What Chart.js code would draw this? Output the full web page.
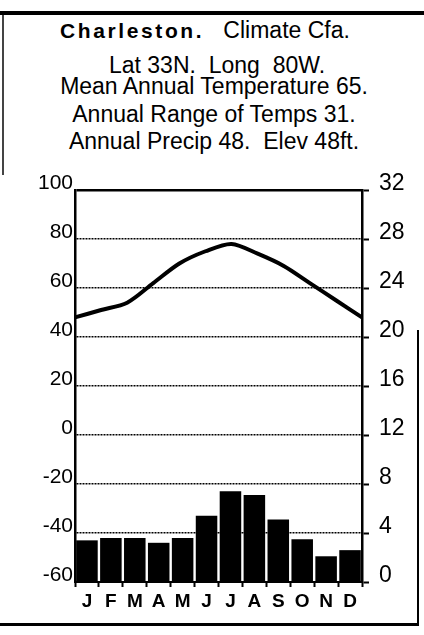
<!DOCTYPE html>
<html>
<head>
<meta charset="utf-8">
<script src="https://cdn.jsdelivr.net/npm/chart.js@4/dist/chart.umd.min.js"></script>
<style>
  html, body { margin: 0; padding: 0; background: #fff; }
  #wrap { position: relative; width: 424px; height: 635px; overflow: hidden; }
  #chart { position: absolute; left: 0; top: 0; }
  .ln { position: absolute; left: 14px; width: 400px; text-align: center; white-space: pre;
        font-family: "Liberation Sans", Arial, sans-serif; font-size: 23px; line-height: 23px; color: #000; }
  .bold { font-weight: bold; font-size: 21px; letter-spacing: 2.6px; }
  .rule { position: absolute; background: #000; }
</style>
</head>
<body>
<div id="wrap">
  <div class="rule" style="left:0; top:11px; width:424px; height:4px;"></div>
  <div class="rule" style="left:2px; top:15px; width:2px; height:160px; background:#444;"></div>
  <div class="rule" style="left:0; top:623px; width:419px; height:3px;"></div>
  <div class="rule" style="left:417px; top:330px; width:2px; height:296px;"></div>

  <div class="ln" style="left:5px; top:19px;"><span class="bold">Charleston.</span>   Climate Cfa.</div>
  <div class="ln" style="left:17px; top:54px;">Lat 33N.  Long  80W.</div>
  <div class="ln" style="top:75px;">Mean Annual Temperature 65.</div>
  <div class="ln" style="top:103px;">Annual Range of Temps 31.</div>
  <div class="ln" style="top:130px;">Annual Precip 48.  Elev 48ft.</div>

  <canvas id="chart" width="424" height="635"></canvas>
</div>
<script>
// Charleston climate data
var months = ['J', 'F', 'M', 'A', 'M', 'J', 'J', 'A', 'S', 'O', 'N', 'D'];
var temperature = [48, 51, 54, 62, 70, 75, 78, 74, 69, 62, 55, 48];   // deg F, left axis
var precipitation = [3.4, 3.6, 3.6, 3.2, 3.6, 5.4, 7.4, 7.1, 5.1, 3.5, 2.1, 2.6]; // right axis
var tempTicks = [-60, -40, -20, 0, 20, 40, 60, 80, 100];
var precipTicks = [0, 4, 8, 12, 16, 20, 24, 28, 32];

var FONT = '"Liberation Sans", Arial, sans-serif';

var ctx = document.getElementById('chart');
var chart = new Chart(ctx.getContext('2d'), {
    type: 'bar',
    data: {
        labels: months,
        datasets: [{
            type: 'line',
            label: 'Temperature',
            data: temperature,
            xAxisID: 'x2',
            yAxisID: 'y',
            borderColor: '#000',
            borderWidth: 4,
            tension: 0.3,
            pointRadius: 0,
            fill: false
        }, {
            type: 'bar',
            label: 'Precipitation',
            data: precipitation,
            xAxisID: 'x',
            yAxisID: 'y1',
            backgroundColor: '#000',
            borderWidth: 0,
            grouped: false,
            barPercentage: 0.9,
            categoryPercentage: 1.0
        }]
    },
    options: {
        responsive: false,
        animation: false,
        layout: { padding: { top: 190, left: 0, right: 0, bottom: 0 } },
        plugins: {
            legend: { display: false },
            tooltip: { enabled: false }
        },
        scales: {
            x: {
                position: 'bottom',
                offset: true,
                grid: {
                    offset: true,
                    drawOnChartArea: false,
                    drawTicks: true,
                    tickLength: 5,
                    tickWidth: 2,
                    color: '#000'
                },
                border: { display: true, color: '#000', width: 2 },
                ticks: {
                    color: '#000',
                    padding: 3,
                    font: { family: FONT, size: 19, weight: 'bold' }
                },
                afterFit: function (scale) { scale.height = 53; }
            },
            x2: {
                type: 'category',
                offset: false,
                display: false
            },
            y: {
                position: 'left',
                min: -60,
                max: 100,
                afterBuildTicks: function (scale) {
                    scale.ticks = tempTicks.map(function (v) { return { value: v }; });
                },
                grid: {
                    color: '#000',
                    lineWidth: function (c) { return c.tick && c.tick.value === 100 ? 2.5 : 1.5; },
                    drawTicks: false
                },
                border: {
                    display: true,
                    color: '#000',
                    width: 2.5,
                    dash: function (c) { return c.tick && c.tick.value === 100 ? [] : [2, 1]; }
                },
                ticks: {
                    color: '#000',
                    padding: 2,
                    labelOffset: -7,
                    font: { family: FONT, size: 21 }
                },
                afterFit: function (scale) { scale.width = 75; }
            },
            y1: {
                position: 'right',
                min: 0,
                max: 32,
                afterBuildTicks: function (scale) {
                    scale.ticks = precipTicks.map(function (v) { return { value: v }; });
                },
                grid: {
                    drawOnChartArea: false,
                    drawTicks: true,
                    tickLength: 7,
                    tickWidth: 2,
                    color: '#000'
                },
                border: { display: true, color: '#000', width: 2.5 },
                ticks: {
                    color: '#000',
                    padding: 10,
                    labelOffset: -6,
                    font: { family: FONT, size: 23 }
                },
                afterFit: function (scale) { scale.width = 62; }
            }
        }
    }
});
</script>
</body>
</html>
